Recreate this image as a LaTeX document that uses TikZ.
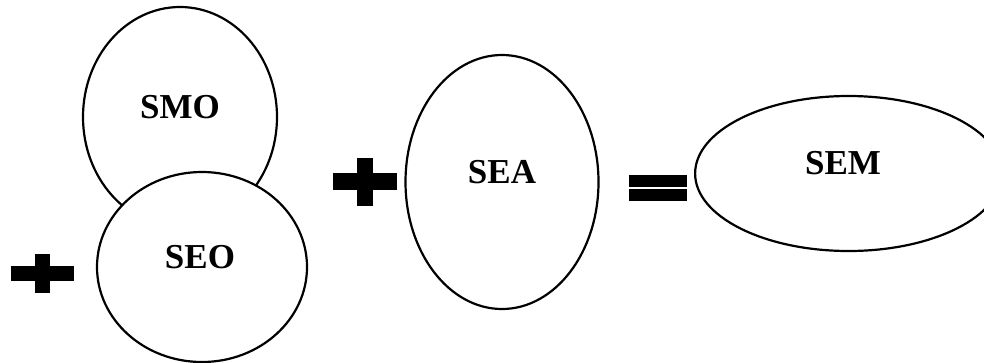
\documentclass[tikz,border=0pt]{standalone}
\usepackage{fontspec}
\setmainfont{Liberation Serif}
\usetikzlibrary{shapes.geometric}
\begin{document}
\begin{tikzpicture}[x=1pt,y=-1pt,
  blob/.style={ellipse, draw=black, line width=2.2pt, fill=white, inner sep=0pt},
  lbl/.style={font=\fontsize{35}{35}\selectfont\bfseries, inner sep=0pt},
  sym/.style={fill=black}]
\useasboundingbox (0,0) rectangle (984,362);
\clip (0,0) rectangle (984,362);
% ellipses
\node[blob, minimum width=194pt, minimum height=220pt] (smo) at (180,117) {};
\node[blob, minimum width=210pt, minimum height=190pt] (seo) at (202,267) {};
\node[blob, minimum width=193pt, minimum height=254pt] (sea) at (502,182) {};
\node[blob, minimum width=307pt, minimum height=155pt] (sem) at (848.6,173.5) {};
% labels
\node[lbl] (tsmo) at (180,107.5) {SMO};
\node[lbl] (tseo) at (200,257) {SEO};
\node[lbl] (tsea) at (502,172) {SEA};
\node[lbl] (tsem) at (843,163) {SEM};
% plus signs
\fill[sym] (10.7,266) rectangle (74,280.7);
\fill[sym] (35.3,254) rectangle (50,293.3);
\fill[sym] (333.3,173.3) rectangle (397.3,190);
\fill[sym] (356.7,158.3) rectangle (373.3,205.7);
% equals sign
\fill[sym] (629,175) rectangle (687.3,186.7);
\fill[sym] (629,189.3) rectangle (687.3,200.7);
\end{tikzpicture}
\end{document}
